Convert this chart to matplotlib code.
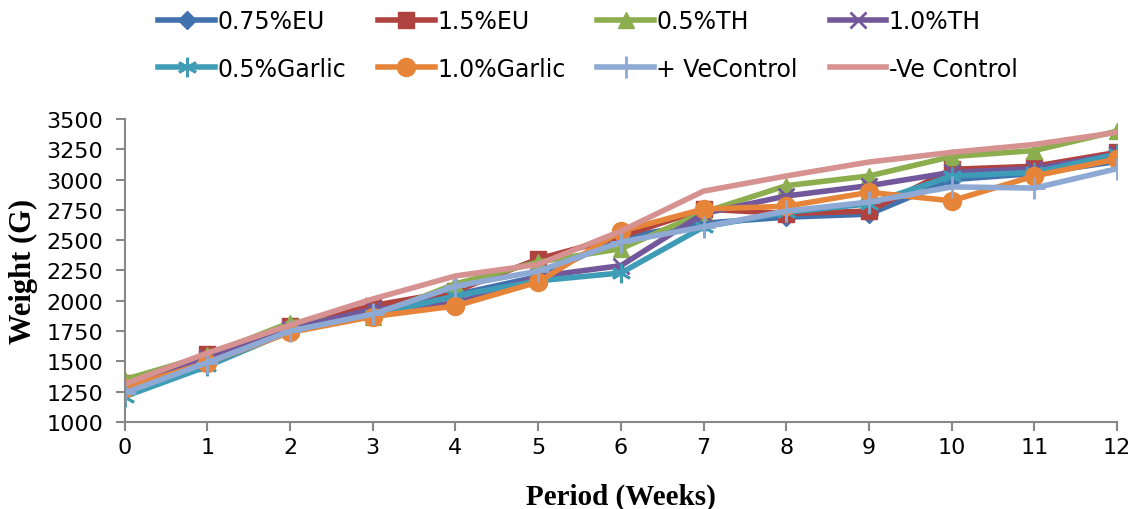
import matplotlib.pyplot as plt

# Body weight per week for each treatment group
weeks = list(range(13))
eu_075 = [1300, 1540, 1770, 1950, 2050, 2200, 2520, 2640, 2690, 2715, 3000, 3050, 3150]
eu_15 = [1320, 1560, 1790, 1960, 2080, 2345, 2530, 2757, 2720, 2740, 3085, 3110, 3225]
th_05 = [1350, 1550, 1820, 1870, 2140, 2320, 2430, 2730, 2950, 3030, 3190, 3240, 3400]
th_10 = [1290, 1530, 1770, 1930, 1980, 2200, 2290, 2720, 2865, 2950, 3060, 3090, 3210]
garlic_05 = [1210, 1460, 1750, 1880, 2040, 2165, 2230, 2610, 2730, 2800, 3030, 3060, 3210]
garlic_10 = [1280, 1490, 1740, 1870, 1957, 2155, 2575, 2757, 2780, 2895, 2825, 3030, 3170]
pos_control = [1240, 1490, 1750, 1890, 2120, 2245, 2485, 2610, 2740, 2815, 2940, 2930, 3090]
neg_control = [1313, 1569, 1800, 2015, 2205, 2300, 2575, 2905, 3030, 3145, 3225, 3290, 3390]

labels = ['0.75%EU', '1.5%EU', '0.5%TH', '1.0%TH',
          '0.5%Garlic', '1.0%Garlic', '+ VeControl', '-Ve Control']
series = [eu_075, eu_15, th_05, th_10, garlic_05, garlic_10, pos_control, neg_control]
colors = ['#4272AE', '#B0433F', '#8CAE4E', '#72589A',
          '#3F9CB6', '#E6853A', '#8DA9D4', '#D59290']
markers = ['D', 's', '^', 'x', (6, 2, 0), 'o', '+', None]
msizes = [9, 11, 11, 11, 14, 13, 16, 0]

fig = plt.figure(figsize=(11.33, 5.10), dpi=100)
ax = fig.add_axes([0.110, 0.1706, 0.876, 0.5941])

handles = []
for y, lab, c, m, ms in zip(series, labels, colors, markers, msizes):
    h, = ax.plot(weeks, y, color=c, lw=4, marker=m, markersize=ms,
                 markeredgewidth=2 if m in ('x', '+', (6, 2, 0)) else 1,
                 markeredgecolor=c, markerfacecolor=c, label=lab,
                 solid_joinstyle='round')
    handles.append(h)

ax.set_xlim(0, 12)
ax.set_ylim(1000, 3500)
ax.set_xticks(weeks)
ax.set_yticks(range(1000, 3501, 250))
for s in ['top', 'right']:
    ax.spines[s].set_visible(False)
for s in ['left', 'bottom']:
    ax.spines[s].set_color('#888888')
    ax.spines[s].set_linewidth(1.5)
ax.tick_params(axis='both', colors='#888888', width=1.5, length=6.5,
               labelcolor='black', labelsize=16)
ax.tick_params(axis='y', pad=9)
ax.tick_params(axis='x', pad=4)

ax.set_ylabel('Weight (G)', fontfamily='Liberation Serif', fontweight='bold',
              fontsize=22, labelpad=6)
ax.set_xlabel('Period (Weeks)', fontfamily='Liberation Serif', fontweight='bold',
              fontsize=21, labelpad=19)

# row-major legend order for a 4-column layout
order = [0, 4, 1, 5, 2, 6, 3, 7]
fig.legend(handles=[handles[i] for i in order], loc='upper left',
           bbox_to_anchor=(0.121, 1.022), ncol=4, frameon=False, fontsize=17,
           handlelength=2.4, handletextpad=0.1, columnspacing=1.35,
           labelspacing=1.0)

fig.savefig('out.png', dpi=100)
